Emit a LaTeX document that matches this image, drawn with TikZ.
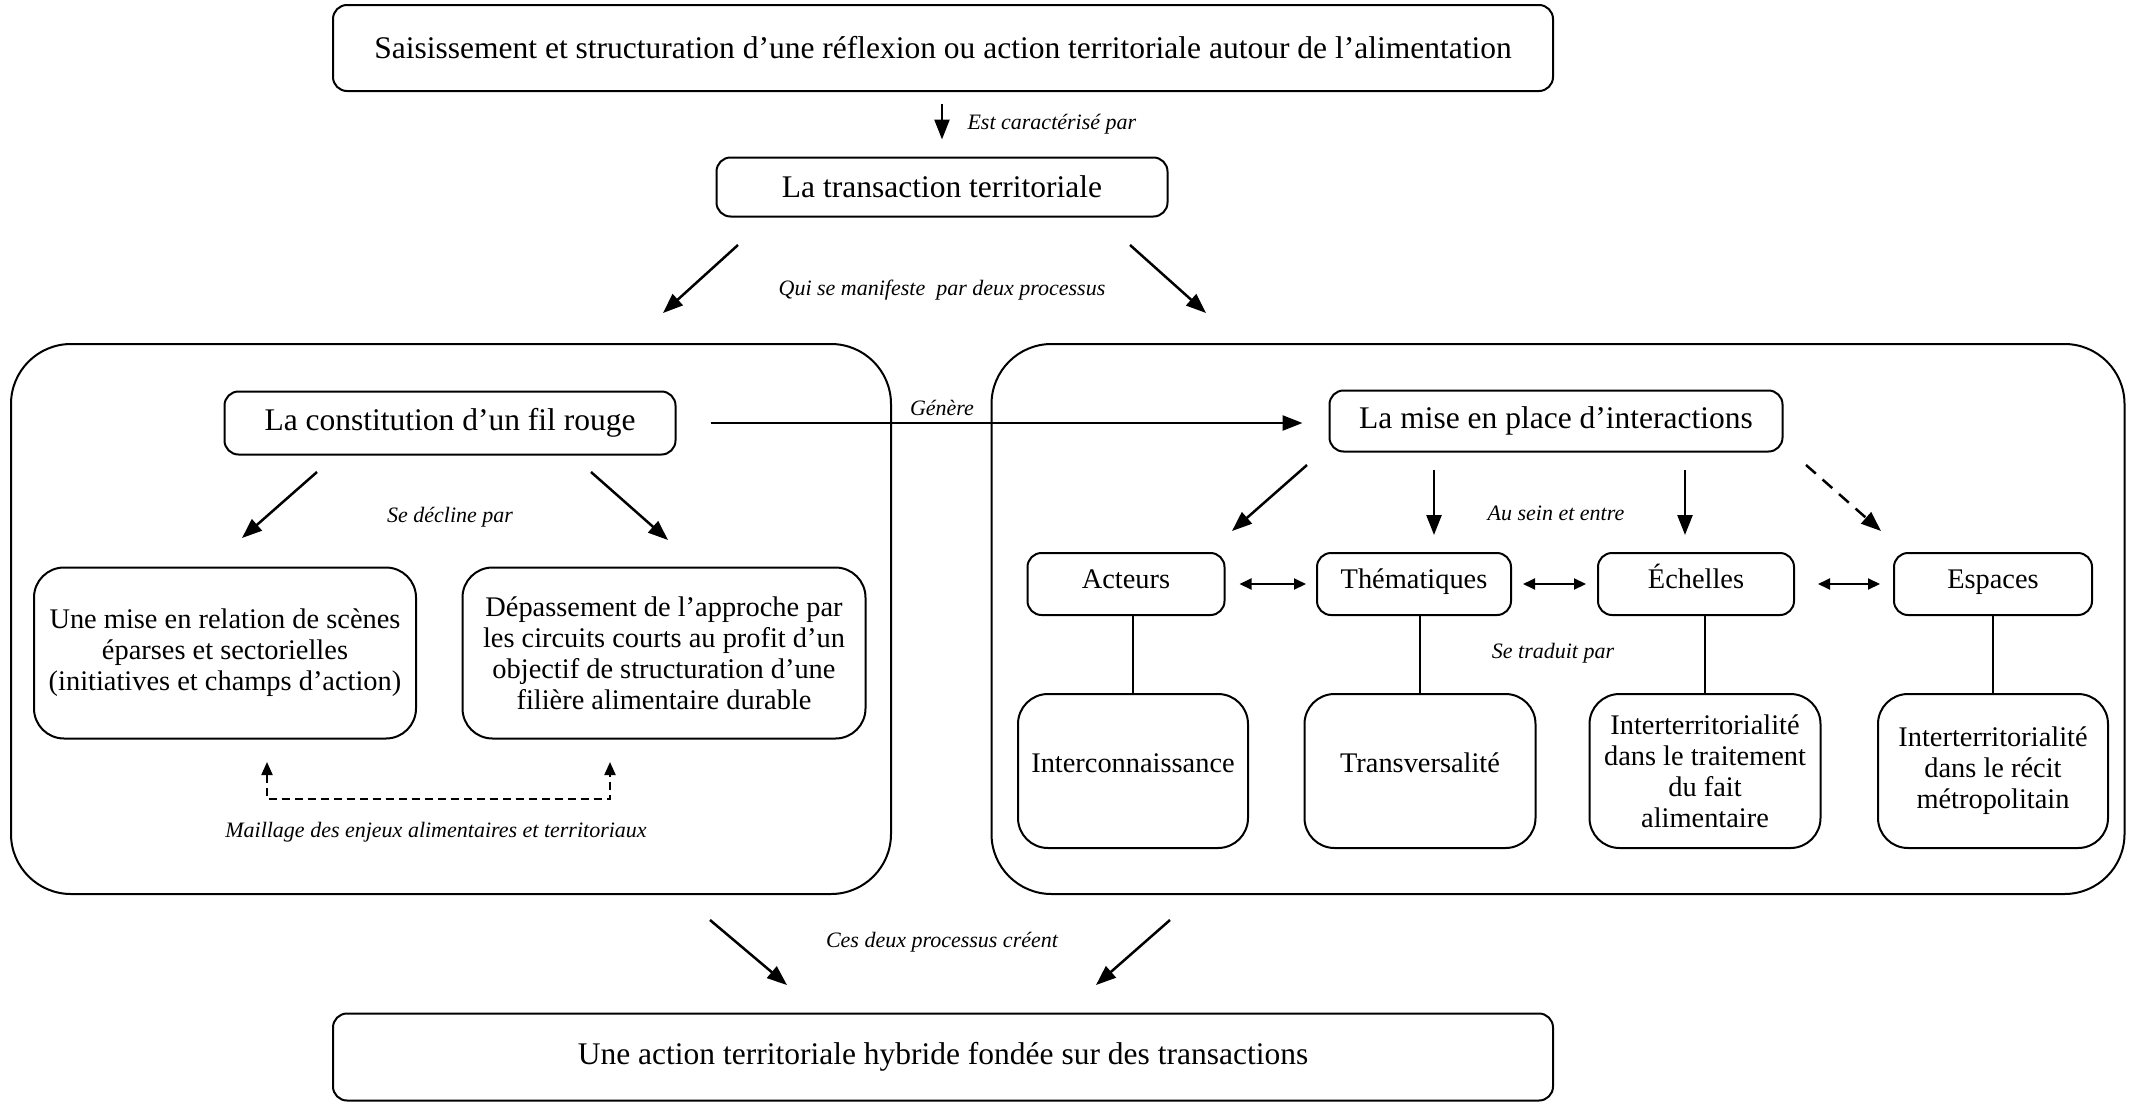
\documentclass[tikz,border=0pt]{standalone}
\usepackage{fontspec}
\setmainfont{Liberation Serif}
\usepackage{tikz}
\usetikzlibrary{positioning}
\usetikzlibrary{arrows.meta}

\tikzset{
  box/.style={draw, line width=2pt, rounded corners=14pt, align=center, inner sep=0pt, font=\fontsize{31.5}{34}\selectfont},
  smallbox/.style={box, font=\fontsize{28.4}{31}\selectfont},
  rowbox/.style={smallbox, text height=0.9em, text depth=0.04em},
  roundbox/.style={smallbox, rounded corners=30pt},
  onebox/.style={roundbox, text height=0.7em, text depth=0.4em},
  framebox/.style={draw, line width=2pt, rounded corners=60pt, minimum width=#1, minimum height=550pt},
  lbl/.style={font=\fontsize{22}{26}\selectfont\itshape},
  arr/.style={line width=2.5pt, -{Triangle[length=20pt, width=15pt]}},
  dbl/.style={line width=2pt, {Triangle[length=12pt, width=11pt]}-{Triangle[length=12pt, width=11pt]}},
}

\begin{document}
\begin{tikzpicture}[x=1pt, y=-1pt]
    \useasboundingbox (0,0) rectangle (2134,1103);

    % the two frames
    \node[framebox=880pt] (lframe) at (451,619) {};
    \node[framebox=1133pt] (rframe) at (1558,619) {};

    \node[box, minimum width=1220pt, minimum height=86pt] (top) at (943,48) {Saisissement et structuration d’une réflexion ou action territoriale autour de l’alimentation};
    \node[box, minimum width=451pt, minimum height=59pt] (trans) at (942,187) {La transaction territoriale};

    \node[box, minimum width=451pt, minimum height=63pt] (fil) at (450,423) {La constitution d’un fil rouge};
    \node[box, minimum width=453pt, minimum height=61pt] (mise) at (1556,421) {La mise en place d’interactions};

    \node[roundbox, minimum width=382pt, minimum height=171pt] (rel) at (225,653) {Une mise en relation de scènes\\éparses et sectorielles\\(initiatives et champs d’action)};
    \node[roundbox, minimum width=403pt, minimum height=171pt] (dep) at (664,653) {Dépassement de l’approche par\\les circuits courts au profit d’un\\objectif de structuration d’une\\filière alimentaire durable};

    \node[rowbox, minimum width=197pt, minimum height=62pt] (acteurs) at (1126,584) {Acteurs};
    \node[rowbox, minimum width=194pt, minimum height=62pt] (them) at (1414,584) {Thématiques};
    \node[rowbox, minimum width=196pt, minimum height=62pt] (ech) at (1696,584) {Échelles};
    \node[rowbox, minimum width=198pt, minimum height=62pt] (esp) at (1993,584) {Espaces};

    \node[onebox, minimum width=230pt, minimum height=154pt] (interc) at (1133,771) {Interconnaissance};
    \node[onebox, minimum width=231pt, minimum height=154pt] (transv) at (1420,771) {Transversalité};
    \node[roundbox, minimum width=231pt, minimum height=154pt] (itrait) at (1705,771) {Interterritorialité\\dans le traitement\\du fait\\alimentaire};
    \node[roundbox, minimum width=230pt, minimum height=154pt] (irecit) at (1993,771) {Interterritorialité\\dans le récit\\métropolitain};

    \node[box, minimum width=1220pt, minimum height=87pt] (bottom) at (943,1057) {Une action territoriale hybride fondée sur des transactions};

    % labels
    \node[lbl, anchor=west] (l1) at (964,124) {Est caractérisé par};
    \node[lbl] (l2) at (942,290) {Qui se manifeste\ \ par deux processus};
    \node[lbl] (l3) at (942,408) {Génère};
    \node[lbl] (l4) at (450,517) {Se décline par};
    \node[lbl] (l5) at (436,832) {Maillage des enjeux alimentaires et territoriaux};
    \node[lbl] (l6) at (1556,513) {Au sein et entre};
    \node[lbl] (l7) at (1553,653) {Se traduit par};
    \node[lbl] (l8) at (942,942) {Ces deux processus créent};

    % free ends of the arrows
    \coordinate (t1) at (738,245);  \coordinate (t2) at (663,313);
    \coordinate (t3) at (1130,245); \coordinate (t4) at (1206,313);
    \coordinate (f1) at (317,472);  \coordinate (f2) at (242,538);
    \coordinate (f3) at (591,472);  \coordinate (f4) at (668,540);
    \coordinate (i1) at (1307,465); \coordinate (i2) at (1232,531);
    \coordinate (i3) at (1434,470); \coordinate (i4) at (1434,535);
    \coordinate (i5) at (1685,470); \coordinate (i6) at (1685,535);
    \coordinate (i7) at (1806,465); \coordinate (i8) at (1881,531);
    \coordinate (b1) at (710,920);  \coordinate (b2) at (787,985);
    \coordinate (b3) at (1170,920); \coordinate (b4) at (1096,985);
    \coordinate (m1) at (267,762);  \coordinate (m2) at (610,762);

    \draw[arr, shorten <=12pt, shorten >=17pt] (trans.north |- top.south) -- (trans.north);
    \draw[arr] (t1) -- (t2);
    \draw[arr] (t3) -- (t4);
    \draw[arr, shorten <=34pt, shorten >=26pt] (fil.east) -- (fil.east -| mise.west);
    \draw[arr] (f1) -- (f2);
    \draw[arr] (f3) -- (f4);
    \draw[line width=2pt, dash pattern=on 8pt off 5pt, {Triangle[length=13pt, width=11pt]}-{Triangle[length=13pt, width=11pt]}] (m1) -- ++(0,37) -| (m2);

    \draw[arr] (i1) -- (i2);
    \draw[arr] (i3) -- (i4);
    \draw[arr] (i5) -- (i6);
    \draw[arr, dash pattern=on 13pt off 9pt] (i7) -- (i8);

    \draw[dbl, shorten <=14pt, shorten >=10pt] (acteurs.east) -- (them.west);
    \draw[dbl, shorten <=11pt, shorten >=11pt] (them.east) -- (ech.west);
    \draw[dbl, shorten <=23pt, shorten >=13pt] (ech.east) -- (esp.west);

    \draw[line width=2pt] (interc.north |- acteurs.south) -- (interc.north);
    \draw[line width=2pt] (transv.north |- them.south) -- (transv.north);
    \draw[line width=2pt] (itrait.north |- ech.south) -- (itrait.north);
    \draw[line width=2pt] (irecit.north |- esp.south) -- (irecit.north);

    \draw[arr] (b1) -- (b2);
    \draw[arr] (b3) -- (b4);
\end{tikzpicture}
\end{document}
